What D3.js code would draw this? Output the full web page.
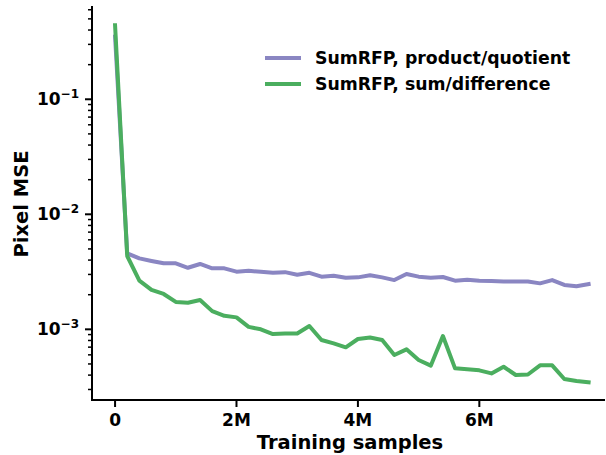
<!DOCTYPE html>
<html>
<head>
<meta charset="utf-8">
<script src="https://cdn.jsdelivr.net/npm/d3@7"></script>
<style>
  body { margin: 0; background: #fff; }
  svg { display: block; font-family: "DejaVu Sans", sans-serif; font-weight: bold; }
</style>
</head>
<body>
<svg id="chart" width="606" height="455"></svg>
<script>
// ---- data ----
const samples = d3.range(40).map(i => i * 0.2e6); // training samples (0 .. 7.8M, step 0.2M)
const productQuotient = [
  0.35, 4.58e-3, 4.14e-3, 3.93e-3, 3.75e-3, 3.75e-3, 3.43e-3, 3.70e-3, 3.39e-3, 3.39e-3,
  3.17e-3, 3.23e-3, 3.16e-3, 3.10e-3, 3.14e-3, 2.98e-3, 3.10e-3, 2.87e-3, 2.92e-3, 2.81e-3,
  2.83e-3, 2.95e-3, 2.83e-3, 2.68e-3, 3.03e-3, 2.87e-3, 2.81e-3, 2.85e-3, 2.65e-3, 2.70e-3,
  2.65e-3, 2.63e-3, 2.61e-3, 2.60e-3, 2.61e-3, 2.51e-3, 2.68e-3, 2.43e-3, 2.37e-3, 2.47e-3
];
const sumDifference = [
  0.44, 4.34e-3, 2.65e-3, 2.20e-3, 2.03e-3, 1.73e-3, 1.70e-3, 1.80e-3, 1.44e-3, 1.31e-3,
  1.27e-3, 1.05e-3, 1.00e-3, 9.1e-4, 9.2e-4, 9.2e-4, 1.07e-3, 8.07e-4, 7.55e-4, 6.97e-4,
  8.24e-4, 8.5e-4, 8.07e-4, 5.98e-4, 6.7e-4, 5.41e-4, 4.83e-4, 8.75e-4, 4.58e-4, 4.5e-4,
  4.40e-4, 4.14e-4, 4.73e-4, 4.01e-4, 4.05e-4, 4.86e-4, 4.86e-4, 3.70e-4, 3.55e-4, 3.46e-4
];
const seriesNames = ["SumRFP, product/quotient", "SumRFP, sum/difference"];
const seriesColors = ["#8a86c2", "#4bae5f"];
const xTickValues = [0, 2e6, 4e6, 6e6];
const xTickLabels = ["0", "2M", "4M", "6M"];
const yMajorTicks = [1e-3, 1e-2, 1e-1];
const yTickExponents = ["\u22123", "\u22122", "\u22121"];

// ---- layout ----
const svg = d3.select("#chart");
const mLeft = 92, mBottom = 400, mTop = 6, mRight = 605;

const x = d3.scaleLinear().domain([-0.38e6, 8.07e6]).range([mLeft, mRight]);
const y = d3.scaleLog().domain([2.43e-4, 0.647]).range([mBottom, mTop]);

// minor ticks
const minorTicks = [];
for (let e = -4; e <= 0; e++) {
  for (let m = 2; m <= 9; m++) {
    const v = m * Math.pow(10, e);
    if (v >= y.domain()[0] && v <= y.domain()[1]) minorTicks.push(v);
  }
}

// lines
const series = [productQuotient, sumDifference];
const line = d3.line().x((d, i) => x(samples[i])).y(d => y(d));
series.forEach((s, k) => {
  svg.append("path")
    .datum(s)
    .attr("d", line)
    .attr("fill", "none")
    .attr("stroke", seriesColors[k])
    .attr("stroke-width", 4)
    .attr("stroke-linejoin", "round")
    .attr("stroke-linecap", "square");
});

// y axis
const yAxisG = svg.append("g").attr("transform", `translate(${mLeft},0)`);
yAxisG.append("line").attr("x1", 0).attr("x2", 0).attr("y1", mTop).attr("y2", mBottom + 1)
  .attr("stroke", "#000").attr("stroke-width", 2);
yAxisG.selectAll(".major").data(yMajorTicks).enter().append("line")
  .attr("x1", -7).attr("x2", 0).attr("y1", d => y(d)).attr("y2", d => y(d))
  .attr("stroke", "#000").attr("stroke-width", 2);
yAxisG.selectAll(".minor").data(minorTicks).enter().append("line")
  .attr("x1", -4).attr("x2", 0).attr("y1", d => y(d)).attr("y2", d => y(d))
  .attr("stroke", "#000").attr("stroke-width", 1.5);
const yl = yAxisG.selectAll(".lab").data(yMajorTicks).enter().append("text")
  .attr("x", -13).attr("y", d => y(d) + 6)
  .attr("text-anchor", "end")
  .attr("font-size", 17).attr("fill", "#000");
yl.append("tspan").text("10");
yl.append("tspan").attr("dy", -7).attr("font-size", 12).text((d, i) => yTickExponents[i]);

// x axis
const xAxisG = svg.append("g").attr("transform", `translate(0,${mBottom})`);
xAxisG.append("line").attr("x1", mLeft - 1).attr("x2", mRight).attr("y1", 0).attr("y2", 0)
  .attr("stroke", "#000").attr("stroke-width", 2);
xAxisG.selectAll(".xt").data(xTickValues).enter().append("line")
  .attr("x1", d => x(d)).attr("x2", d => x(d)).attr("y1", 0).attr("y2", 7)
  .attr("stroke", "#000").attr("stroke-width", 2);
xAxisG.selectAll(".xl").data(xTickValues).enter().append("text")
  .attr("x", d => x(d)).attr("y", 26)
  .attr("text-anchor", "middle").attr("font-size", 17).attr("fill", "#000")
  .text((d, i) => xTickLabels[i]);

// axis labels
svg.append("text").attr("x", 350).attr("y", 449)
  .attr("text-anchor", "middle").attr("font-size", 19.5).attr("fill", "#000")
  .text("Training samples");
svg.append("text").attr("transform", `translate(28,${204}) rotate(-90)`)
  .attr("text-anchor", "middle").attr("font-size", 19.5).attr("fill", "#000")
  .text("Pixel MSE");

// legend
const legend = svg.append("g");
seriesNames.forEach((name, k) => {
  const ly = 58 + k * 26;
  legend.append("line").attr("x1", 265).attr("x2", 301).attr("y1", ly).attr("y2", ly)
    .attr("stroke", seriesColors[k]).attr("stroke-width", 4);
  legend.append("text").attr("x", 315).attr("y", ly + 6)
    .attr("font-size", 17.3).attr("fill", "#000").text(name);
});
</script>
</body>
</html>
